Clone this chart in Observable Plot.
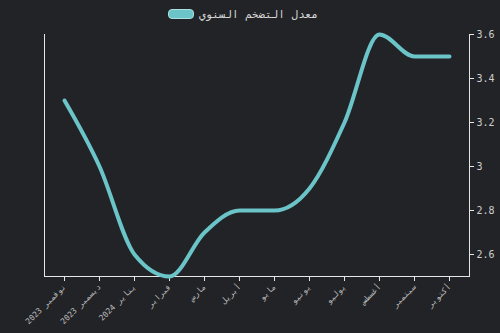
<!DOCTYPE html>
<html><head><meta charset="utf-8">
<script src="https://cdn.jsdelivr.net/npm/d3@7"></script>
<script src="https://cdn.jsdelivr.net/npm/@observablehq/plot@0.6"></script>
<style>
html,body{margin:0;padding:0;background:#222327;width:500px;height:333px;overflow:hidden;}
#legend{height:28px;display:flex;align-items:center;justify-content:center;font-family:"DejaVu Sans Mono",monospace;font-size:11px;color:#d6d6d6;padding-right:14px;}
#legend .sw{width:24px;height:8px;border-radius:4px;background:#6ac4c8;border:1.5px solid #a9e0e2;margin-right:5px;}
#chart svg{display:block;}
</style></head>
<body>
<div id="legend"><span class="sw"></span><span dir="rtl">معدل التضخم السنوي</span></div>
<div id="chart"></div>
<script>
const months = ["نوفمبر 2023","ديسمبر 2023","يناير 2024","فبراير","مارس","أبريل","مايو","يونيو","يوليو","أغسطس","سبتمبر","أكتوبر"];
const inflation = [3.3, 3.0, 2.6, 2.5, 2.7, 2.8, 2.8, 2.9, 3.2, 3.6, 3.5, 3.5];
const yTicks = [2.6, 2.8, 3, 3.2, 3.4, 3.6];
const seriesName = "معدل التضخم السنوي";

const data = months.map((m, i) => ({month: m, value: inflation[i]}));
const axisColor = "#e6e6e6";
const textColor = "#cfcfcf";

const chart = Plot.plot({
  width: 500,
  height: 305,
  marginTop: 6,
  marginBottom: 57,
  marginLeft: 44,
  marginRight: 31,
  style: {background: "#222327", color: textColor, fontFamily: "DejaVu Sans Mono, monospace", fontSize: "10px"},
  x: {type: "point", domain: months, padding: 0.5},
  y: {domain: [2.5, 3.6]},
  marks: [
    Plot.frame({anchor: "left", stroke: axisColor, strokeOpacity: 1}),
    Plot.frame({anchor: "right", stroke: axisColor, strokeOpacity: 1}),
    Plot.frame({anchor: "bottom", stroke: axisColor, strokeOpacity: 1}),
    Plot.axisX({anchor: "bottom", tickRotate: -45, tickSize: 5, tickPadding: 4, stroke: axisColor, fill: "#bdbdbd", fontSize: 8, label: null}),
    Plot.axisY({anchor: "right", ticks: yTicks, tickFormat: d => String(d), tickSize: 4, tickPadding: 3, stroke: axisColor, fill: textColor, label: null}),
    Plot.lineY(data, {x: "month", y: "value", curve: "monotone-x", stroke: "#6ac4c8", strokeWidth: 4, strokeLinecap: "round"})
  ]
});
document.getElementById("chart").appendChild(chart);
</script>
</body></html>
